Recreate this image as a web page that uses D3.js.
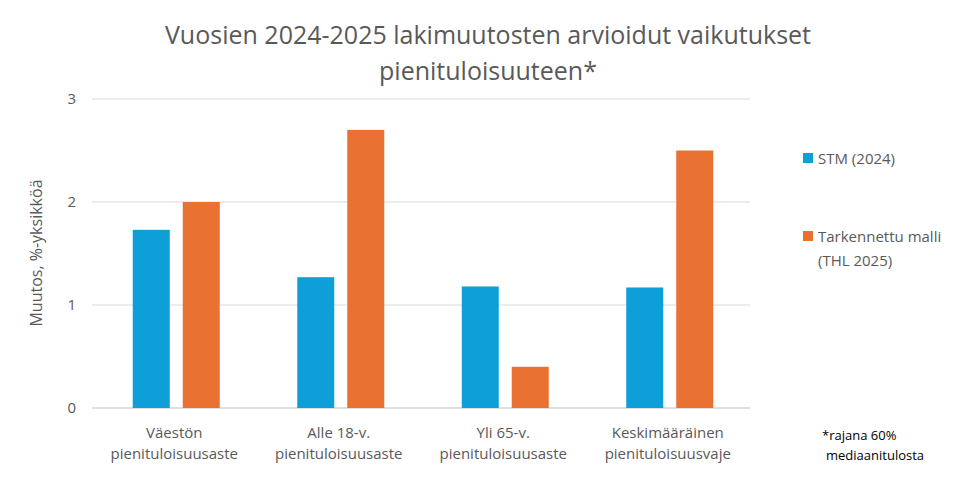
<!DOCTYPE html>
<html><head><meta charset="utf-8">
<script src="https://cdn.jsdelivr.net/npm/d3@7"></script>
<style>body{margin:0;background:#fff}text{font-family:"Open Sans",sans-serif}</style>
</head><body><svg id="c" width="980" height="490"></svg>
<script>
const categories=[["Väestön","pienituloisuusaste"],["Alle 18-v.","pienituloisuusaste"],["Yli 65-v.","pienituloisuusaste"],["Keskimääräinen","pienituloisuusvaje"]];
const stm=[1.73,1.27,1.18,1.17];
const thl=[2.0,2.7,0.4,2.5];
const yTicks=[0,1,2,3];
const seriesNames=[["STM (2024)"],["Tarkennettu malli","(THL 2025)"]];
const colors=["#0e9fd8","#e97132"];
const svg=d3.select("#c");
const m={l:92,r:750,t:99,b:408};
const x=d3.scaleBand().domain(d3.range(4)).range([m.l,m.r]);
const y=d3.scaleLinear().domain([0,3]).range([m.b,m.t]);
svg.append("g").selectAll("line").data(yTicks).join("line")
 .attr("x1",m.l).attr("x2",m.r).attr("y1",d=>y(d)).attr("y2",d=>y(d))
 .attr("stroke",d=>d===0?"#bfbfbf":"#d9d9d9").attr("stroke-width",1);
svg.append("g").selectAll("text").data(yTicks).join("text")
 .attr("x",76).attr("y",d=>y(d)+5).attr("text-anchor","end").attr("font-size",15).attr("fill","#595959").text(d=>d);
const bw=37;
[stm,thl].forEach((s,si)=>{
 svg.append("g").selectAll("rect").data(s).join("rect")
  .attr("x",(d,i)=>x(i)+x.bandwidth()/2+(si===0?-46+4.5:4.5+4))
  .attr("width",bw).attr("y",d=>y(d)).attr("height",d=>y(0)-y(d)).attr("fill",colors[si]);
});
categories.forEach((c,i)=>{
 c.forEach((t,j)=>svg.append("text").attr("x",x(i)+x.bandwidth()/2).attr("y",438+j*21)
  .attr("text-anchor","middle").attr("font-size",15).attr("fill","#595959").text(t));
});
svg.append("text").attr("transform","translate(42,253) rotate(-90)").attr("text-anchor","middle")
 .attr("font-size",16).attr("fill","#595959").text("Muutos, %-yksikköä");
svg.append("text").attr("x",488).attr("y",44).attr("text-anchor","middle").attr("font-size",25).attr("fill","#595959").text("Vuosien 2024-2025  lakimuutosten arvioidut vaikutukset");
svg.append("text").attr("x",488).attr("y",80).attr("text-anchor","middle").attr("font-size",25).attr("fill","#595959").text("pienituloisuuteen*");
const ly=[158,236];
seriesNames.forEach((n,i)=>{
 svg.append("rect").attr("x",803).attr("y",ly[i]-5).attr("width",10).attr("height",10).attr("fill",colors[i]);
 n.forEach((t,j)=>svg.append("text").attr("x",818).attr("y",ly[i]+6+j*24).attr("font-size",15).attr("fill","#595959").text(t));
});
svg.append("text").attr("x",822).attr("y",440).attr("font-size",13).attr("fill","#000").text("*rajana 60%");
svg.append("text").attr("x",826).attr("y",460).attr("font-size",13).attr("fill","#000").text("mediaanitulosta");
</script></body></html>
